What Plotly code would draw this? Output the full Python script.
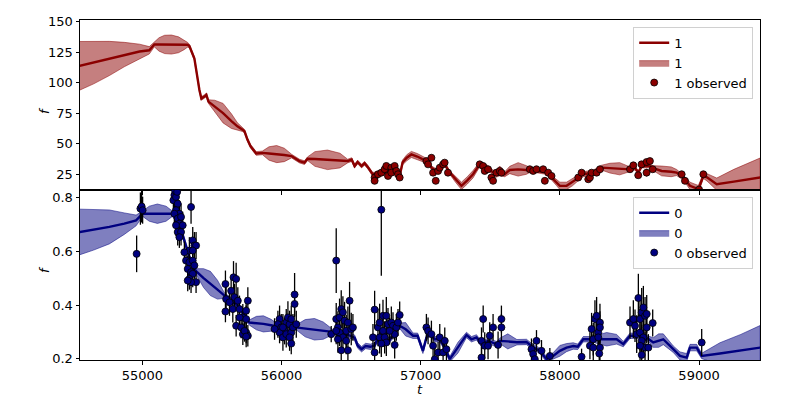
import plotly.graph_objects as go
from plotly.subplots import make_subplots

# ---------------- panel "1" (top) ----------------
t1_model = [54547, 54650, 54763, 54870, 54980, 55050, 55086, 55120, 55160, 55209, 55260, 55300,
            55324, 55338, 55374, 55410, 55424, 55446, 55460, 55475, 55520, 55580, 55640, 55683,
            55720, 55734, 55755, 55777, 55818, 55863, 55910, 55965, 56020, 56072, 56129, 56165,
            56187, 56240, 56330, 56420, 56475, 56504, 56525, 56547, 56575, 56597, 56619, 56655,
            56700, 56760, 56800, 56849, 56870, 56900, 56933, 56975, 57016, 57050, 57077, 57113,
            57137, 57173, 57209, 57250, 57293, 57335, 57376, 57424, 57473, 57520, 57540, 57568,
            57604, 57640, 57700, 57760, 57784, 57832, 57904, 57928, 57976, 58000, 58048, 58090,
            58120, 58168, 58240, 58300, 58360, 58430, 58504, 58540, 58564, 58588, 58647, 58671,
            58731, 58800, 58839, 58887, 58935, 58995, 59031, 59057, 59127, 59250, 59439]
f1_model = [113.7, 116.5, 119.8, 123.0, 125.5, 126.5, 131.3, 131.3, 131.3, 131.2, 131.0, 131.0,
            131.0, 130.0, 119.7, 94.0, 87.0, 88.6, 90.0, 84.5, 80.6, 75.0, 68.5, 64.2,
            61.5, 60.2, 53.4, 48.0, 42.0, 42.5, 42.0, 41.5, 40.8, 39.9, 35.8, 34.5,
            37.7, 37.5, 36.8, 36.2, 35.8, 37.0, 31.7, 35.0, 31.7, 34.0, 31.0, 25.0,
            25.5, 27.0, 28.0, 23.6, 34.7, 38.5, 41.2, 39.5, 37.2, 36.0, 30.4, 27.7,
            30.0, 33.1, 26.4, 21.0, 15.5, 20.0, 25.0, 33.1, 31.0, 26.4, 25.5, 27.7,
            25.0, 28.5, 29.0, 28.5, 28.5, 27.7, 26.4, 23.6, 18.2, 15.5, 15.5, 18.5,
            21.0, 25.0, 26.4, 30.4, 30.0, 29.5, 29.0, 30.0, 26.4, 31.7, 31.7, 30.0,
            27.7, 27.0, 26.4, 22.3, 15.5, 12.8, 23.6, 22.5, 16.9, 19.0, 22.3]
s1_model = [20.0, 17.5, 14.0, 10.0, 6.0, 3.0, 2.0, 5.5, 7.5, 7.8, 6.5, 4.0,
            2.0, 1.5, 1.5, 1.5, 1.5, 1.5, 1.5, 1.5, 5.0, 8.0, 6.0, 3.0,
            1.5, 1.5, 1.5, 1.5, 1.5, 1.5, 5.5, 7.0, 5.5, 1.5, 1.5, 1.5,
            1.5, 6.0, 8.0, 6.0, 1.5, 1.5, 1.5, 1.5, 1.5, 1.5, 1.5, 1.5,
            1.5, 1.5, 1.5, 1.5, 2.0, 2.5, 2.5, 2.5, 2.0, 1.5, 1.5, 1.5,
            1.5, 1.5, 1.5, 2.5, 3.0, 3.0, 3.0, 2.0, 2.0, 2.0, 3.0, 4.0,
            2.0, 3.0, 5.5, 3.5, 2.0, 1.5, 1.5, 1.5, 2.5, 3.0, 3.0, 3.0,
            2.5, 2.0, 2.0, 2.0, 4.0, 5.0, 2.0, 1.5, 1.5, 1.5, 1.5, 2.0,
            4.0, 4.0, 2.5, 2.0, 3.0, 3.0, 2.0, 3.0, 5.0, 10.0, 16.0]

t1_obs = [56669, 56669, 56693, 56717, 56741, 56753, 56765, 56789, 56789, 56813, 56825, 56837, 56849,
          57041, 57053, 57077, 57089, 57108, 57125, 57137, 57161, 57172, 57196,
          57424, 57448, 57460, 57484, 57508, 57520, 57544, 57568, 57580,
          57784, 57808, 57832, 57880, 57892, 57916, 57940,
          58132, 58156, 58204, 58216, 58228, 58264, 58288,
          58504, 58528, 58563, 58587, 58623, 58623, 58647, 58667,
          58875, 58899, 59000, 59031]
f1_obs = [22.3, 19.6, 25.0, 26.3, 29.1, 31.8, 23.6, 30.4, 26.3, 31.8, 27.7, 25.0, 22.3,
          35.8, 33.1, 38.5, 26.3, 19.6, 27.7, 30.4, 33.1, 34.5, 26.3,
          33.1, 31.8, 27.7, 29.1, 22.3, 19.6, 26.3, 27.7, 26.3,
          29.1, 27.7, 29.1, 29.1, 19.6, 26.3, 23.6,
          22.3, 26.3, 20.9, 22.3, 26.3, 26.3, 29.1,
          29.1, 32.3, 24.2, 33.1, 26.3, 35.0, 35.8, 29.1,
          25.0, 19.6, 12.5, 25.0]
e1_obs = [1.0, 1.0, 1.0, 1.0, 1.0, 1.0, 1.0, 1.0, 1.0, 1.0, 1.0, 1.0, 1.0,
          1.0, 1.0, 1.0, 1.0, 1.0, 1.0, 1.0, 1.0, 1.0, 1.0,
          1.0, 1.0, 1.0, 1.0, 1.0, 1.0, 1.0, 1.0, 1.0,
          1.0, 1.0, 1.0, 1.0, 1.0, 1.0, 1.0,
          1.0, 1.0, 1.0, 1.0, 1.0, 1.0, 1.0,
          1.0, 1.0, 1.0, 1.0, 3.0, 2.0, 2.0, 1.0,
          1.0, 1.0, 1.0, 1.5]

# ---------------- panel "0" (bottom) ----------------
t0_model = [54547, 54650, 54763, 54870, 54955, 55002, 55050, 55108, 55170, 55216, 55266, 55302,
            55338, 55374, 55388, 55440, 55489, 55540, 55590, 55626, 55698, 55746, 55770, 55820,
            55870, 55925, 55971, 56057, 56108, 56170, 56237, 56300, 56367, 56453, 56525, 56547,
            56575, 56604, 56640, 56669, 56690, 56777, 56849, 56892, 56945, 56978, 57016, 57041,
            57065, 57101, 57137, 57173, 57209, 57268, 57329, 57365, 57401, 57437, 57484, 57544,
            57568, 57626, 57691, 57760, 57796, 57856, 57904, 57952, 58000, 58048, 58096, 58129,
            58168, 58228, 58280, 58336, 58408, 58456, 58504, 58576, 58635, 58671, 58710, 58743,
            58815, 58863, 58911, 58935, 58983, 59019, 59150, 59300, 59439]
f0_model = [0.671, 0.679, 0.690, 0.702, 0.714, 0.739, 0.739, 0.739, 0.739, 0.739, 0.700, 0.640,
            0.578, 0.534, 0.525, 0.500, 0.480, 0.457, 0.435, 0.422, 0.391, 0.348, 0.335, 0.333,
            0.330, 0.325, 0.320, 0.320, 0.317, 0.314, 0.310, 0.305, 0.300, 0.295, 0.279, 0.250,
            0.236, 0.248, 0.245, 0.250, 0.275, 0.270, 0.323, 0.310, 0.286, 0.286, 0.230, 0.279,
            0.298, 0.273, 0.273, 0.242, 0.199, 0.242, 0.289, 0.273, 0.280, 0.255, 0.267, 0.255,
            0.267, 0.265, 0.262, 0.263, 0.248, 0.230, 0.199, 0.211, 0.230, 0.242, 0.248, 0.245,
            0.273, 0.273, 0.273, 0.273, 0.273, 0.255, 0.286, 0.286, 0.275, 0.261, 0.268, 0.273,
            0.236, 0.211, 0.205, 0.242, 0.242, 0.211, 0.220, 0.231, 0.242]
s0_model = [0.085, 0.075, 0.063, 0.040, 0.020, 0.010, 0.028, 0.036, 0.028, 0.010, 0.010, 0.010,
            0.010, 0.010, 0.010, 0.035, 0.045, 0.035, 0.010, 0.010, 0.010, 0.010, 0.010, 0.025,
            0.030, 0.022, 0.010, 0.010, 0.010, 0.032, 0.040, 0.032, 0.010, 0.010, 0.010, 0.010,
            0.010, 0.010, 0.010, 0.010, 0.010, 0.010, 0.010, 0.025, 0.010, 0.010, 0.010, 0.010,
            0.010, 0.010, 0.010, 0.010, 0.010, 0.020, 0.010, 0.010, 0.010, 0.010, 0.010, 0.010,
            0.010, 0.028, 0.010, 0.010, 0.010, 0.010, 0.010, 0.012, 0.020, 0.015, 0.012, 0.010,
            0.010, 0.010, 0.018, 0.025, 0.018, 0.010, 0.010, 0.010, 0.010, 0.018, 0.025, 0.020,
            0.012, 0.015, 0.015, 0.012, 0.012, 0.010, 0.040, 0.060, 0.082]

t0_obs = [54959, 54986, 54995, 55002,
          55223, 55230, 55242, 55254, 55242, 55266, 55230, 55254, 55278, 55266, 55242, 55290, 55254,
          55278, 55266, 55350, 55362, 55374, 55386, 55338, 55362, 55302, 55314, 55338, 55362, 55326,
          55374, 55350, 55362, 55338, 55386, 55350, 55326, 55235, 55250,
          55597, 55638, 55655, 55674, 55602, 55662, 55626, 55686, 55597, 55650, 55698, 55722, 55746,
          55758, 55674, 55710, 55746, 55722, 55758, 55746, 55698, 55734, 55746,
          55986, 55974, 55998, 56022, 55986, 56010, 56034, 56046, 56058, 56070, 56034, 56070, 56082,
          56094, 56094, 56058, 56070, 56106, 56010, 55950,
          56393, 56357, 56393, 56405, 56417, 56429, 56441, 56453, 56465, 56477, 56489, 56501, 56513,
          56417, 56441, 56465, 56429, 56477, 56393, 56405,
          56717, 56669, 56657, 56669, 56693, 56705, 56729, 56753, 56765, 56729, 56705, 56741, 56789,
          56801, 56813, 56825, 56837, 56849, 56777, 56753, 56813, 56717,
          57041, 57053, 57077, 57089, 57101, 57137, 57125, 57161, 57173, 57185,
          57437, 57449, 57437, 57460, 57484, 57496, 57520, 57556, 57580, 57580,
          57796, 57808, 57820, 57832, 57868, 57928,
          58156, 58216, 58228, 58240, 58252, 58264, 58276, 58288, 58288, 58276, 58288, 58283, 58240,
          58504, 58528, 58540, 58564, 58576, 58588, 58600, 58612, 58624, 58552, 58576, 58600, 58588,
          58612, 58576, 58588, 58624, 58636, 58667,
          59019]
f0_obs = [0.590, 0.758, 0.766, 0.752,
          0.789, 0.808, 0.801, 0.776, 0.752, 0.739, 0.739, 0.721, 0.727, 0.702, 0.696, 0.696, 0.671,
          0.671, 0.652, 0.764, 0.640, 0.621, 0.621, 0.602, 0.602, 0.596, 0.565, 0.559, 0.565, 0.534,
          0.547, 0.522, 0.516, 0.497, 0.485, 0.485, 0.491, 0.825, 0.820,
          0.478, 0.453, 0.503, 0.497, 0.422, 0.429, 0.410, 0.416, 0.376, 0.385, 0.385, 0.354, 0.348,
          0.416, 0.323, 0.317, 0.298, 0.292, 0.286, 0.379, 0.354, 0.304, 0.283,
          0.348, 0.329, 0.317, 0.304, 0.298, 0.280, 0.335, 0.354, 0.329, 0.348, 0.292, 0.298, 0.317,
          0.404, 0.439, 0.280, 0.257, 0.329, 0.317, 0.311,
          0.565, 0.292, 0.348, 0.317, 0.354, 0.385, 0.373, 0.342, 0.304, 0.335, 0.416, 0.311, 0.317,
          0.298, 0.280, 0.267, 0.232, 0.232, 0.304, 0.273,
          0.754, 0.383, 0.280, 0.224, 0.317, 0.335, 0.360, 0.360, 0.329, 0.304, 0.280, 0.280, 0.335,
          0.323, 0.292, 0.317, 0.335, 0.363, 0.304, 0.261, 0.252, 0.257,
          0.317, 0.304, 0.292, 0.249, 0.199, 0.280, 0.224, 0.224, 0.267, 0.236,
          0.267, 0.348, 0.205, 0.249, 0.249, 0.286, 0.317, 0.252, 0.348, 0.317,
          0.236, 0.218, 0.199, 0.267, 0.230, 0.211,
          0.208, 0.249, 0.311, 0.273, 0.348, 0.360, 0.298, 0.335, 0.317, 0.280, 0.242, 0.220, 0.242,
          0.335, 0.348, 0.323, 0.426, 0.348, 0.373, 0.391, 0.360, 0.367, 0.292, 0.298, 0.280, 0.267,
          0.242, 0.249, 0.215, 0.317, 0.242, 0.333,
          0.261]
e0_obs = [0.068, 0.060, 0.060, 0.050,
          0.05, 0.05, 0.05, 0.05, 0.05, 0.05, 0.04, 0.05, 0.05, 0.05, 0.04, 0.05, 0.05,
          0.05, 0.04, 0.062, 0.05, 0.05, 0.05, 0.05, 0.05, 0.04, 0.04, 0.05, 0.05, 0.05,
          0.05, 0.05, 0.05, 0.04, 0.04, 0.04, 0.04, 0.05, 0.05,
          0.05, 0.05, 0.06, 0.06, 0.05, 0.05, 0.05, 0.05, 0.04, 0.05, 0.05, 0.05, 0.05,
          0.05, 0.04, 0.04, 0.04, 0.04, 0.04, 0.05, 0.04, 0.04, 0.04,
          0.05, 0.05, 0.05, 0.05, 0.04, 0.05, 0.05, 0.06, 0.05, 0.05, 0.05, 0.05, 0.05,
          0.05, 0.08, 0.05, 0.04, 0.05, 0.05, 0.04,
          0.12, 0.03, 0.06, 0.06, 0.07, 0.07, 0.06, 0.07, 0.06, 0.06, 0.07, 0.06, 0.05,
          0.05, 0.05, 0.05, 0.04, 0.04, 0.05, 0.05,
          0.245, 0.07, 0.05, 0.04, 0.07, 0.07, 0.06, 0.07, 0.06, 0.06, 0.06, 0.06, 0.06,
          0.05, 0.05, 0.05, 0.05, 0.05, 0.05, 0.05, 0.05, 0.05,
          0.05, 0.05, 0.05, 0.04, 0.04, 0.05, 0.04, 0.05, 0.05, 0.04,
          0.05, 0.05, 0.04, 0.05, 0.05, 0.05, 0.05, 0.05, 0.05, 0.05,
          0.04, 0.04, 0.04, 0.04, 0.04, 0.03,
          0.03, 0.05, 0.06, 0.06, 0.07, 0.07, 0.07, 0.07, 0.06, 0.06, 0.06, 0.05, 0.05,
          0.06, 0.07, 0.06, 0.09, 0.08, 0.09, 0.08, 0.07, 0.07, 0.07, 0.07, 0.07, 0.06,
          0.06, 0.06, 0.05, 0.06, 0.05, 0.05,
          0.05]

x_range = [54552, 59438]
y1_range = [12.1, 151.3]
y0_range = [0.196, 0.827]
x_ticks = [55000, 56000, 57000, 58000, 59000]
x_tick_labels = ["55000", "56000", "57000", "58000", "59000"]
y1_ticks = [25, 50, 75, 100, 125, 150]
y1_tick_labels = ["25", "50", "75", "100", "125", "150"]
y0_ticks = [0.2, 0.4, 0.6, 0.8]
y0_tick_labels = ["0.2", "0.4", "0.6", "0.8"]

RED = "#8b0000"
BLUE = "#000080"
RED_FILL = "rgba(139,0,0,0.5)"
BLUE_FILL = "rgba(0,0,128,0.5)"

fig = make_subplots(rows=2, cols=1, shared_xaxes=True, vertical_spacing=0)


def add_panel(row, t_m, f_m, s_m, t_o, f_o, e_o, name, color, fill, legend):
    upper = [m + s for m, s in zip(f_m, s_m)]
    lower = [m - s for m, s in zip(f_m, s_m)]
    fig.add_trace(go.Scatter(
        x=t_m + t_m[::-1], y=upper + lower[::-1], fill="toself", fillcolor=fill,
        line=dict(color=fill, width=1), mode="lines", name=name, legend=legend,
        legendrank=2, hoverinfo="skip"), row=row, col=1)
    fig.add_trace(go.Scatter(
        x=t_m, y=f_m, mode="lines", line=dict(color=color, width=2.4), name=name,
        legend=legend, legendrank=1), row=row, col=1)
    fig.add_trace(go.Scatter(
        x=t_o, y=f_o, mode="markers", name=name + " observed", legend=legend, legendrank=3,
        marker=dict(color=color, size=7, line=dict(color="black", width=0.8)),
        error_y=dict(type="data", array=e_o, visible=True, color="black", thickness=1.3,
                     width=0)), row=row, col=1)


add_panel(1, t1_model, f1_model, s1_model, t1_obs, f1_obs, e1_obs, "1", RED, RED_FILL, "legend")
add_panel(2, t0_model, f0_model, s0_model, t0_obs, f0_obs, e0_obs, "0", BLUE, BLUE_FILL, "legend2")

axis_common = dict(showline=True, linecolor="black", linewidth=1, mirror=True,
                   ticks="outside", ticklen=3.5, tickcolor="black", showgrid=False,
                   zeroline=False, tickfont=dict(size=13, color="black"))

fig.update_xaxes(range=x_range, tickvals=x_ticks, ticktext=x_tick_labels, **axis_common)
fig.update_xaxes(showticklabels=False, row=1, col=1)
fig.update_yaxes(range=y1_range, tickvals=y1_ticks, ticktext=y1_tick_labels, row=1, col=1,
                 **axis_common)
fig.update_yaxes(range=y0_range, tickvals=y0_ticks, ticktext=y0_tick_labels, row=2, col=1,
                 **axis_common)

legend_style = dict(bgcolor="rgba(255,255,255,0.8)", bordercolor="#d0d0d0", borderwidth=1,
                    font=dict(size=13, color="black"), xanchor="right", yanchor="top",
                    tracegroupgap=0, itemwidth=30)

fig.update_layout(
    width=800, height=400,
    margin=dict(l=80, r=40, t=20, b=40),
    paper_bgcolor="white", plot_bgcolor="white",
    font=dict(family="DejaVu Sans", size=13, color="black"),
    showlegend=True,
    legend=dict(x=0.99, y=0.98, **legend_style),
    legend2=dict(x=0.99, y=0.48, **legend_style),
    annotations=[
        dict(text="<i>f</i>", xref="paper", yref="paper", x=-0.066, y=0.75, showarrow=False,
             textangle=-90, font=dict(size=13)),
        dict(text="<i>f</i>", xref="paper", yref="paper", x=-0.066, y=0.25, showarrow=False,
             textangle=-90, font=dict(size=13)),
        dict(text="<i>t</i>", xref="paper", yref="paper", x=0.5, y=-0.088, showarrow=False,
             yanchor="middle", font=dict(size=13)),
    ],
)

fig.write_html("out.html", config={"displayModeBar": False},
               post_script="document.body.style.margin='0';document.body.style.overflow='hidden';")
